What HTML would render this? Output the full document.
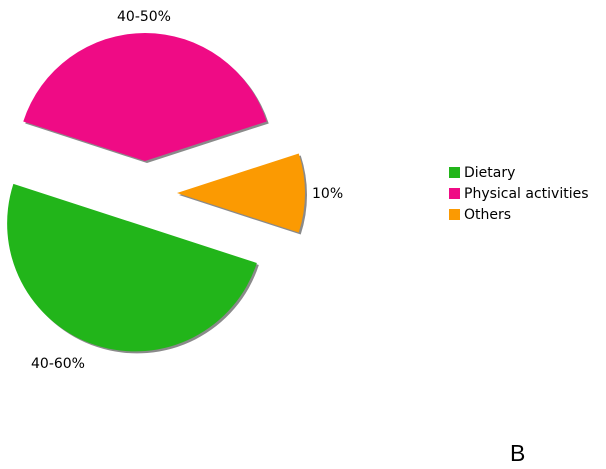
<!DOCTYPE html>
<html><head><meta charset="utf-8"><style>
html,body{margin:0;padding:0;background:#fff;}
svg{display:block;}
text{font-family:"DejaVu Sans","Liberation Sans",sans-serif;font-size:14px;fill:#000;}
</style></head><body>
<svg id="chart" width="606" height="469">
<g id="slices"></g>
<text x="144" y="21" text-anchor="middle">40-50%</text>
<text x="312" y="198">10%</text>
<text x="31" y="368">40-60%</text>
<g>
<rect x="449" y="167" width="11" height="11" fill="#22b51a"/>
<text x="464" y="177">Dietary</text>
<rect x="449" y="188" width="11" height="11" fill="#ef0b85"/>
<text x="464" y="198">Physical activities</text>
<rect x="449" y="209" width="11" height="11" fill="#fb9a02"/>
<text x="464" y="219">Others</text>
</g>
<text x="510" y="461" style="font-family:'Liberation Sans',sans-serif;font-size:23px">B</text>
</svg>
<script>
const categories = ["Others", "Dietary", "Physical activities"];
const values = [10, 50, 40];
const colors = ["#fb9a02", "#22b51a", "#ef0b85"];
const cx = 145, cy = 193, r = 128, explode = 32, startDeg = -18;
const g = document.getElementById('slices');
const ns = 'http://www.w3.org/2000/svg';
const total = values.reduce((a, b) => a + b, 0);
let a0 = startDeg;
values.forEach((v, i) => {
  const span = v / total * 360;
  const a1 = a0 + span;
  const mid = (a0 + a1) / 2 * Math.PI / 180;
  const ox = cx + explode * Math.cos(mid), oy = cy + explode * Math.sin(mid);
  const p = (a) => [ox + r * Math.cos(a * Math.PI / 180), oy + r * Math.sin(a * Math.PI / 180)];
  const s = p(a0), e = p(a1);
  const d = `M${ox},${oy} L${s[0]},${s[1]} A${r},${r} 0 ${span > 180 ? 1 : 0} 1 ${e[0]},${e[1]} Z`;
  const sh = document.createElementNS(ns, 'path');
  sh.setAttribute('d', d);
  sh.setAttribute('fill', '#8a8a8a');
  sh.setAttribute('transform', 'translate(2,2)');
  
  
  g.appendChild(sh);
  const path = document.createElementNS(ns, 'path');
  path.setAttribute('d', d);
  path.setAttribute('fill', colors[i]);
  
  
  g.appendChild(path);
  a0 = a1;
});
</script>
</body></html>
